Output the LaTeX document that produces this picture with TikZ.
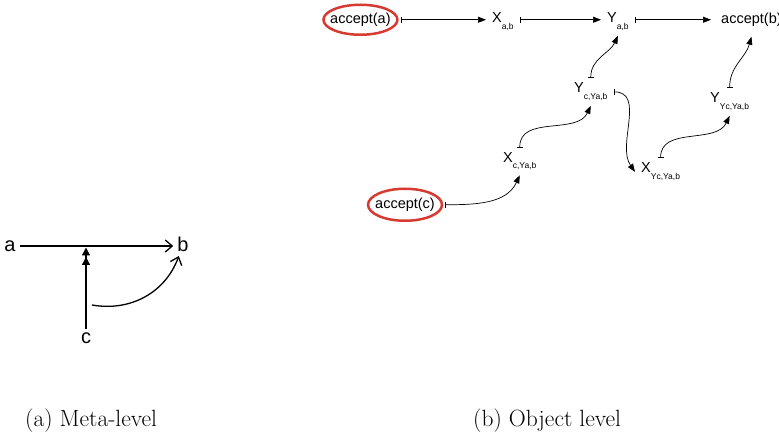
\documentclass[tikz,border=0pt]{standalone}
\usepackage{fontspec}
\newfontfamily\arialfont{Liberation Sans}
\usetikzlibrary{calc,arrows.meta}
\definecolor{ringred}{RGB}{214,58,48}
\newcommand{\lowsub}[1]{\raisebox{-6.5pt}{\fontsize{8.5}{9}\selectfont #1}}

\begin{document}
\begin{tikzpicture}[x=1pt,y=1pt,
    term/.style={font=\arialfont\fontsize{14.5}{16}\selectfont, inner xsep=6pt, inner ysep=5pt, anchor=base west},
    accept/.style={term, inner xsep=10pt, inner ysep=10pt},
    ring/.style={draw=ringred, line width=2.5pt},
    barto/.style={line width=0.7pt, {Bar[width=6pt]}-{Triangle[length=8pt,width=6pt]}},
    meta/.style={font=\arialfont\fontsize{20}{22}\selectfont, inner sep=4pt},
    metato/.style={line width=1.3pt, -{Straight Barb[length=7pt,width=12pt]}},
    caption/.style={font=\fontsize{23.5}{28}\selectfont, inner sep=0pt, anchor=base west}]
    \useasboundingbox (0,0) rectangle (779,434);

    % meta-level
    \node [meta] (a) at (10,188) {a};
    \node [meta] (b) at (183,189.5) {b};
    \node [meta] (c) at (86,95.5) {c};
    \coordinate (bend) at (92,129);
    \draw [metato] (a.east) -- (a.east -| b.west);
    \draw [line width=1.3pt, -{Triangle[length=8pt,width=8pt,sep=1.5pt] Triangle[length=8pt,width=8pt]}] (c) -- ([yshift=-1.5pt]c |- a);
    \draw [metato] (bend) to [out=-10, in=-110] (b);

    % object level
    \node [accept] (acca) at (320,410.5) {accept(a)};
    \node [term] (xab) at (486,411) {X\lowsub{a,b}};
    \node [term] (yab) at (601,411) {Y\lowsub{a,b}};
    \node [accept] (accb) at (711,410.5) {accept(b)};
    \node [term] (ycyab) at (568,341) {Y\lowsub{c,Ya,b}};
    \node [term] (xcyab) at (497,271.5) {X\lowsub{c,Ya,b}};
    \node [term] (xycyab) at (635,261) {X\lowsub{Yc,Ya,b}};
    \node [term] (yycyab) at (704,331) {Y\lowsub{Yc,Ya,b}};
    \node [accept] (accc) at (365,225.5) {accept(c)};

    \draw [ring] (acca.center) ellipse [x radius=37pt, y radius=15pt];
    \draw [ring] (accc.center) ellipse [x radius=37pt, y radius=16pt];

    \draw [barto] (acca.east) -- (acca.east -| xab.west);
    \draw [barto] (acca.east -| xab.east) -- (acca.east -| yab.west);
    \draw [barto] (acca.east -| yab.east) -- (acca.east -| accb.west);
    \draw [barto] (ycyab.north) to [out=90, in=-115] (yab.south);
    \draw [barto] (ycyab.east) to [out=0, in=125] (xycyab.west);
    \draw [barto] (xcyab.north) to [out=90, in=-115] (ycyab.south);
    \draw [barto] (accc.east) to [out=0, in=-115] (xcyab.south);
    \draw [barto] (xycyab.north) to [out=90, in=-115] (yycyab.south);
    \draw [barto] (yycyab.north) to [out=90, in=-105] (accb.south);

    \node [caption] (capa) at (25,8) {(a) Meta-level};
    \node [caption] (capb) at (473,8) {(b) Object level};
\end{tikzpicture}
\end{document}
